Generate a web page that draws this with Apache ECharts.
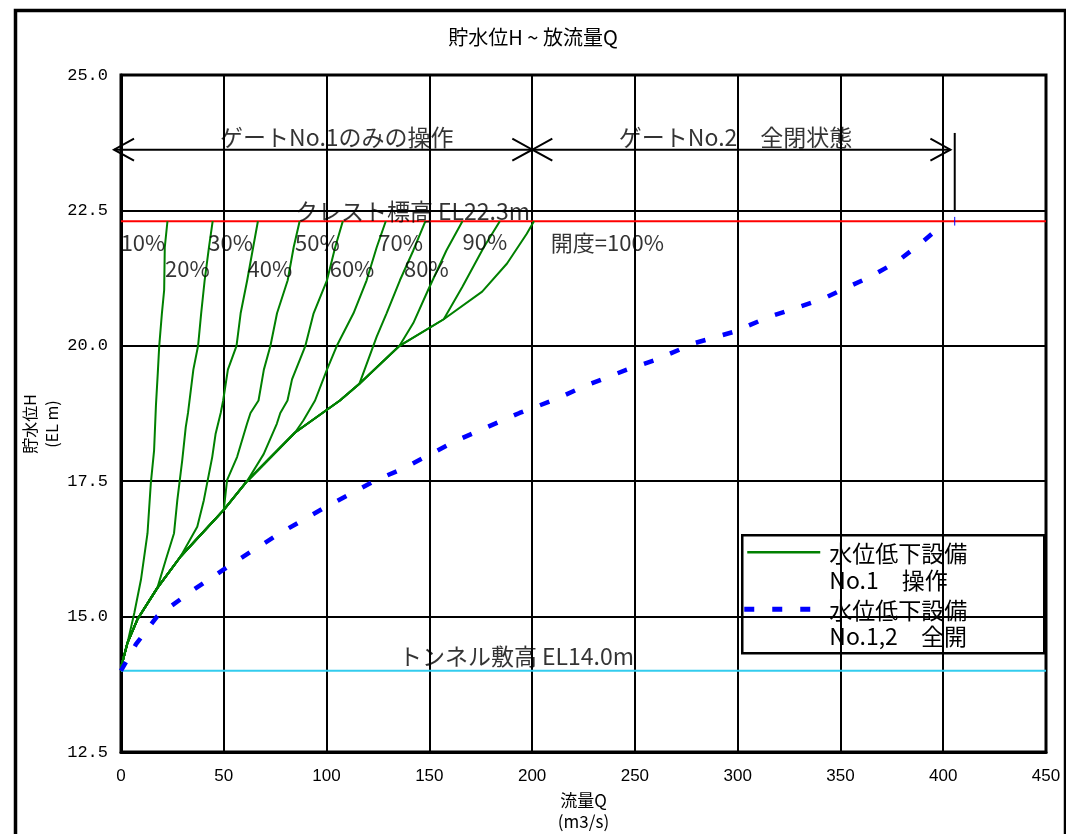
<!DOCTYPE html>
<html>
<head>
<meta charset="utf-8">
<script src="https://cdn.jsdelivr.net/npm/echarts@6/dist/echarts.min.js"></script>
<style>
  html, body { margin: 0; padding: 0; background: #fff; }
  #chart { width: 1066px; height: 834px; }
</style>
</head>
<body>
<div id="chart"></div>
<script>
// 貯水位H ~ 放流量Q : discharge curves of the drawdown facility

// Gate No.1 alone, fully open (開度=100%) — every partial opening follows it at low levels
const opening100 = [[0, 14.0], [0.3, 14.1], [3.2, 14.52], [8, 14.95], [17.7, 15.53], [29, 16.11],
  [50, 16.97], [61.3, 17.5], [84.7, 18.4], [106.5, 18.99], [116, 19.3], [135.5, 20.0],
  [157, 20.49], [175.7, 21.0], [187.8, 21.52], [197.4, 22.07], [200.9, 22.3]];

// Partial openings, from the point where each leaves the 100% curve up to the crest
const opening10 = [[3.2, 14.52], [6.5, 15.07], [9.7, 15.68], [12.9, 16.54], [14.5, 17.46], [16.1, 18.07],
  [17, 18.9], [17.9, 19.5], [18.6, 20.0], [19.9, 20.6], [21, 21.03], [21.3, 21.82], [22.6, 22.3]];
const opening20 = [[17.7, 15.53], [21.8, 16.05], [25.8, 16.54], [27.4, 17.15], [29.8, 17.89], [31.5, 18.5],
  [32.6, 18.76], [35.2, 19.56], [37.5, 20.0], [39, 20.6], [40.7, 21.21], [42.8, 21.82], [44.6, 22.3]];
const opening30 = [[29, 16.11], [37.1, 16.66], [40.3, 17.15], [44.4, 17.95], [46, 18.37], [48.5, 18.76],
  [49.7, 18.99], [52, 19.56], [56.2, 20.0], [58.2, 20.6], [61.4, 21.21], [64.3, 21.82], [66.6, 22.3]];
const opening40 = [[50, 16.97], [51.6, 17.52], [56.5, 17.95], [61.3, 18.56], [63, 18.76], [66.9, 18.99],
  [69.5, 19.56], [72.7, 20.0], [75.9, 20.6], [81.1, 21.21], [84, 21.82], [86.9, 22.3]];
const opening50 = [[61.3, 17.5], [69.4, 18.0], [75.8, 18.56], [77.5, 18.76], [81, 18.99], [83.2, 19.38],
  [89.7, 20.0], [93.7, 20.6], [100.2, 21.21], [104.2, 21.82], [107.9, 22.3]];
const opening60 = [[84.7, 18.4], [88.7, 18.62], [94.4, 18.99], [100.2, 19.56], [105, 20.0], [113.1, 20.6],
  [119.5, 21.21], [124.4, 21.82], [128.8, 22.3]];
const opening70 = [[116, 19.3], [124.4, 20.17], [129.2, 20.6], [135.7, 21.21], [142.2, 21.76], [148.1, 22.3]];
const opening80 = [[135.5, 20.0], [142.2, 20.42], [149.4, 21.03], [158.3, 21.76], [166.1, 22.3]];
const opening90 = [[157, 20.49], [166.1, 21.09], [176.5, 21.82], [184.3, 22.3]];

// Gates No.1 and No.2 both fully open
const fullOpenBoth = [[0, 14.0], [7.3, 14.49], [17.7, 15.01], [35.5, 15.5], [50, 15.87], [64.5, 16.23],
  [77.4, 16.54], [98.4, 17.0], [124.2, 17.52], [137, 17.73], [162.6, 18.24], [193.9, 18.76],
  [211.3, 19.01], [225.2, 19.25], [246.1, 19.56], [260, 19.74], [279.1, 20.05], [298.3, 20.26],
  [315.7, 20.54], [327.8, 20.69], [341.7, 20.87], [352.2, 21.06], [364.3, 21.27], [377.4, 21.55],
  [388.7, 21.88], [398.5, 22.2]];

// Reference levels
const crestLevel = 22.3;
const tunnelInvert = 14.0;

// Opening labels: [Q, H, text]
const openingLabels = [[10.7, 21.9, '10%'], [32.3, 21.43, '20%'], [53.3, 21.9, '30%'], [72.4, 21.43, '40%'],
  [95.5, 21.9, '50%'], [112.4, 21.43, '60%'], [136, 21.9, '70%'], [148.6, 21.43, '80%'],
  [177, 21.92, '90%'], [236.6, 21.9, '開度=100%']];

// Gate operation ranges: [Q from, Q to, H]
const gateSpans = [[-3.4, 200.1, 23.62], [200.1, 403.5, 23.62]];
const gateSpanLabels = [[105, 23.85, 'ゲートNo.1のみの操作'], [299, 23.85, 'ゲートNo.2　全閉状態']];
const gateLimitMark = [[405.6, 22.47], [405.6, 23.93]];
const crestTick = [[405.6, 22.38], [405.6, 22.22]];
const levelLabels = [[141.8, 22.48, 'クレスト標高 EL22.3m'], [192.4, 14.27, 'トンネル敷高 EL14.0m']];

// Each partial-opening curve starts on the 100% curve at the origin
function withEnvelope(own) {
  return opening100.filter(p => p[1] < own[0][1]).concat(own);
}

const GREEN = '#008000';
const BLUE = '#0000ff';
const FONT = "'Noto Sans CJK JP', 'Liberation Sans', sans-serif";

const partials = [opening10, opening20, opening30, opening40, opening50, opening60, opening70, opening80, opening90];

const greenSeries = partials.concat([null]).map(own => ({
  type: 'line',
  name: '水位低下設備 No.1 操作',
  data: own ? withEnvelope(own) : opening100,
  showSymbol: false,
  symbol: 'none',
  lineStyle: { color: GREEN, width: 2 },
  z: 4,
  silent: true
}));

const chart = echarts.init(document.getElementById('chart'), null, { renderer: 'canvas' });

function labelSeries(rows, fontSize) {
  return {
    type: 'scatter',
    data: rows.map(r => ({ value: [r[0], r[1]], name: r[2] })),
    symbolSize: 1,
    itemStyle: { color: 'rgba(0,0,0,0)' },
    label: {
      show: true, position: 'inside', formatter: '{b}',
      color: '#000', textBorderWidth: 0, fontSize: fontSize, fontFamily: FONT
    },
    silent: true,
    z: 8
  };
}

chart.setOption({
  backgroundColor: '#fff',
  animation: false,
  textStyle: { fontFamily: FONT },
  title: {
    text: '貯水位H ~ 放流量Q',
    left: 'center',
    top: 27,
    padding: 0,
    textStyle: { fontSize: 20, fontWeight: 'normal', color: '#000', fontFamily: FONT }
  },
  grid: {
    left: 121, right: 20, top: 75, bottom: 82,
    outerBoundsMode: 'none',
    show: true, borderColor: '#000', borderWidth: 3, backgroundColor: 'transparent'
  },
  xAxis: {
    type: 'value', min: 0, max: 450, interval: 50,
    name: '流量Q\n(m3/s)', nameLocation: 'middle', nameGap: 38,
    nameTextStyle: { fontSize: 17, color: '#000', lineHeight: 21, fontFamily: FONT },
    axisLine: { show: true, lineStyle: { color: '#000', width: 3 } },
    axisTick: { show: false },
    axisLabel: { margin: 16, fontSize: 17, color: '#000', fontFamily: "'Liberation Sans', sans-serif" },
    splitLine: { show: true, lineStyle: { color: '#000', width: 2 } }
  },
  yAxis: {
    type: 'value', min: 12.5, max: 25, interval: 2.5,
    axisLine: { show: true, lineStyle: { color: '#000', width: 3 } },
    axisTick: { show: false },
    axisLabel: {
      margin: 13, fontSize: 17, color: '#000', fontFamily: "'Liberation Mono', monospace",
      formatter: v => v.toFixed(1)
    },
    splitLine: { show: true, lineStyle: { color: '#000', width: 2 } }
  },
  series: [
    {
      type: 'line', name: 'crest', data: [[0, crestLevel], [450, crestLevel]],
      symbol: 'none', lineStyle: { color: '#ff0000', width: 2 }, z: 3, silent: true
    },
    {
      type: 'line', name: 'invert', data: [[0, tunnelInvert], [450, tunnelInvert]],
      symbol: 'none', lineStyle: { color: '#33ccee', width: 2 }, z: 3, silent: true
    },
    ...greenSeries,
    {
      type: 'line', name: '水位低下設備 No.1,2 全開', data: fullOpenBoth,
      symbol: 'none', showSymbol: false,
      lineStyle: { color: BLUE, width: 4.5, type: [10, 18], cap: 'butt' },
      z: 5, silent: true
    },
    {
      type: 'line', name: 'limit', data: gateLimitMark,
      symbol: 'none', lineStyle: { color: '#000', width: 2 }, z: 5, silent: true
    },
    {
      type: 'line', name: 'crest tick', data: crestTick,
      symbol: 'none', lineStyle: { color: BLUE, width: 1 }, z: 5, silent: true
    },
    {
      type: 'custom', name: 'spans',
      data: gateSpans,
      encode: { x: [0, 1], y: 2 },
      silent: true, z: 6,
      renderItem: function (params, api) {
        const a = api.coord([api.value(0), api.value(2)]);
        const b = api.coord([api.value(1), api.value(2)]);
        const w = 20, h = 11;
        const st = { stroke: '#000', lineWidth: 2, fill: null };
        return {
          type: 'group',
          children: [
            { type: 'line', shape: { x1: a[0], y1: a[1], x2: b[0], y2: b[1] }, style: st },
            { type: 'polyline', shape: { points: [[a[0] + w, a[1] - h], a, [a[0] + w, a[1] + h]] }, style: st },
            { type: 'polyline', shape: { points: [[b[0] - w, b[1] - h], b, [b[0] - w, b[1] + h]] }, style: st }
          ]
        };
      }
    },
    labelSeries(openingLabels, 22),
    labelSeries(gateSpanLabels, 23),
    labelSeries(levelLabels, 23)
  ],
  graphic: [
    // outer frame
    {
      type: 'rect', left: 13, top: 8, shape: { width: 1050, height: 840 },
      style: { fill: null, stroke: '#000', lineWidth: 3.5 }, z: 100
    },
    // vertical axis title
    {
      type: 'text', x: 41, y: 424, rotation: Math.PI / 2, z: 100,
      style: {
        text: '貯水位H\n(EL m)', font: '16px ' + FONT, fill: '#000',
        align: 'center', verticalAlign: 'middle', lineHeight: 22
      }
    },
    // legend box
    {
      type: 'group', left: 741, top: 534, z: 100,
      children: [
        { type: 'rect', shape: { x: 0, y: 0, width: 302, height: 118 }, style: { fill: '#fff', stroke: '#000', lineWidth: 2.5 } },
        { type: 'line', shape: { x1: 5, y1: 17, x2: 78, y2: 17 }, style: { stroke: GREEN, lineWidth: 2.5 } },
        { type: 'text', x: 87, y: 18, style: { text: '水位低下設備', font: '23px ' + FONT, fill: '#000', verticalAlign: 'middle' } },
        { type: 'text', x: 87, y: 45, style: { text: 'No.1　操作', font: '23px ' + FONT, fill: '#000', verticalAlign: 'middle' } },
        { type: 'line', shape: { x1: 2, y1: 74, x2: 71, y2: 74 }, style: { stroke: BLUE, lineWidth: 5, lineDash: [10, 18] } },
        { type: 'text', x: 87, y: 75, style: { text: '水位低下設備', font: '23px ' + FONT, fill: '#000', verticalAlign: 'middle' } },
        { type: 'text', x: 87, y: 101, style: { text: 'No.1,2　全開', font: '23px ' + FONT, fill: '#000', verticalAlign: 'middle' } }
      ]
    }
  ]
});
</script>
</body>
</html>
